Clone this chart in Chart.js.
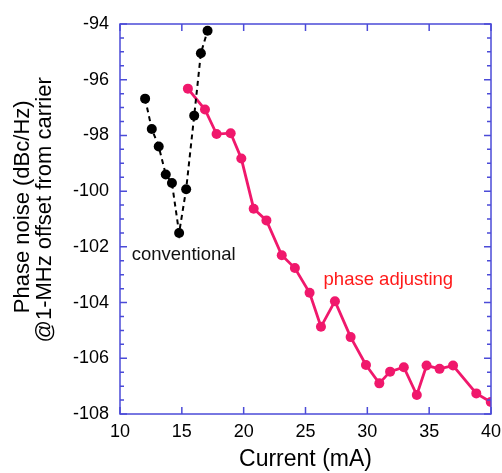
<!DOCTYPE html>
<html>
<head>
<meta charset="utf-8">
<script src="https://cdn.jsdelivr.net/npm/chart.js@4.4.1/dist/chart.umd.min.js"></script>
<style>
html,body{margin:0;padding:0;background:#fff;}
#wrap{width:502px;height:473px;}
</style>
</head>
<body>
<div id="wrap"><canvas id="c" width="502" height="473"></canvas></div>
<script>
const convCurrent = [12.03, 12.57, 13.13, 13.7, 14.2, 14.78, 15.35, 16.0, 16.54, 17.08];
const convNoise   = [-96.68, -97.77, -98.40, -99.40, -99.71, -101.5, -99.93, -97.29, -95.05, -94.24];
const phaseCurrent = [15.49, 16.87, 17.81, 18.95, 19.81, 20.81, 21.84, 23.08, 24.14, 25.33, 26.25, 27.38, 28.65, 29.89, 30.97, 31.84, 32.95, 34.0, 34.79, 35.84, 36.93, 38.81, 39.98];
const phaseNoise   = [-96.32, -97.07, -97.95, -97.92, -98.83, -100.63, -101.05, -102.30, -102.76, -103.65, -104.87, -103.95, -105.24, -106.24, -106.90, -106.48, -106.32, -107.32, -106.26, -106.38, -106.26, -107.26, -107.57];
const xTicks = [10, 15, 20, 25, 30, 35, 40];
const yTicks = [-108, -106, -104, -102, -100, -98, -96, -94];
const labels = [
  {text: 'conventional', x: 15.15, y: -102.3, color: '#111111'},
  {text: 'phase adjusting', x: 31.7, y: -103.2, color: '#ff1a1a'}
];

const AXIS = '#4b4bd8';
const FONT = '"Liberation Sans", Arial, sans-serif';
const toPts = (xs, ys) => xs.map((x, i) => ({x: x, y: ys[i]}));

const frame = {
  id: 'frame',
  afterDraw(chart) {
    const ctx = chart.ctx, a = chart.chartArea;
    const xs = chart.scales.x, ys = chart.scales.y;
    ctx.save();
    ctx.strokeStyle = AXIS;
    ctx.lineWidth = 1.5;
    ctx.strokeRect(a.left, a.top, a.right - a.left, a.bottom - a.top);
    ctx.beginPath();
    for (let v = ys.min; v <= ys.max + 1e-6; v += 0.5) {
      const p = ys.getPixelForValue(v);
      const major = Math.abs(Math.round(v) - v) < 1e-6 && Math.round(v) % 2 === 0;
      const L = major ? 7 : 4;
      ctx.moveTo(a.left, p); ctx.lineTo(a.left + L, p);
      ctx.moveTo(a.right, p); ctx.lineTo(a.right - L, p);
    }
    xTicks.forEach(v => {
      const p = xs.getPixelForValue(v);
      ctx.moveTo(p, a.bottom); ctx.lineTo(p, a.bottom - 7);
      ctx.moveTo(p, a.top); ctx.lineTo(p, a.top + 7);
    });
    ctx.stroke();
    ctx.font = '18.5px ' + FONT;
    ctx.textAlign = 'center';
    ctx.textBaseline = 'middle';
    labels.forEach(l => {
      ctx.fillStyle = l.color;
      ctx.fillText(l.text, xs.getPixelForValue(l.x), ys.getPixelForValue(l.y));
    });
    ctx.restore();
  }
};

new Chart(document.getElementById('c'), {
  type: 'scatter',
  data: {
    datasets: [
      {
        label: 'conventional',
        data: toPts(convCurrent, convNoise),
        showLine: true,
        borderColor: '#000000',
        backgroundColor: '#000000',
        borderWidth: 2,
        borderDash: [5, 4],
        pointRadius: 5,
        pointHoverRadius: 5,
        pointBorderWidth: 0
      },
      {
        label: 'phase adjusting',
        data: toPts(phaseCurrent, phaseNoise),
        showLine: true,
        borderColor: '#f0186c',
        backgroundColor: '#f0186c',
        borderWidth: 2.8,
        pointRadius: 5,
        pointHoverRadius: 5,
        pointBorderWidth: 0
      }
    ]
  },
  options: {
    responsive: false,
    animation: false,
    layout: {padding: {top: 24, right: 11, left: 0, bottom: 0}},
    plugins: {legend: {display: false}, tooltip: {enabled: false}},
    scales: {
      x: {
        type: 'linear',
        min: 10, max: 40,
        afterBuildTicks: s => { s.ticks = xTicks.map(v => ({value: v})); },
        afterFit: s => { s.height = 59; s.paddingLeft = 0; s.paddingRight = 0; },
        grid: {display: false, drawTicks: false},
        border: {display: false},
        ticks: {color: '#000', padding: 7, font: {size: 18, family: FONT}, maxRotation: 0},
        title: {display: true, text: 'Current (mA)', color: '#000', padding: {top: 3, bottom: 0}, font: {size: 23, family: FONT}}
      },
      y: {
        type: 'linear',
        min: -108, max: -94,
        afterBuildTicks: s => { s.ticks = yTicks.map(v => ({value: v})); },
        afterFit: s => { s.width = 120; s.paddingTop = 0; s.paddingBottom = 0; },
        grid: {display: false, drawTicks: false},
        border: {display: false},
        ticks: {color: '#000', padding: 11, font: {size: 18, family: FONT}},
        title: {display: true, text: ['    Phase noise (dBc/Hz)', '   @1-MHz offset from carrier'], color: '#000', padding: {top: 12, bottom: 0}, font: {size: 22, family: FONT, lineHeight: 1.0}}
      }
    }
  },
  plugins: [frame]
});
</script>
</body>
</html>
